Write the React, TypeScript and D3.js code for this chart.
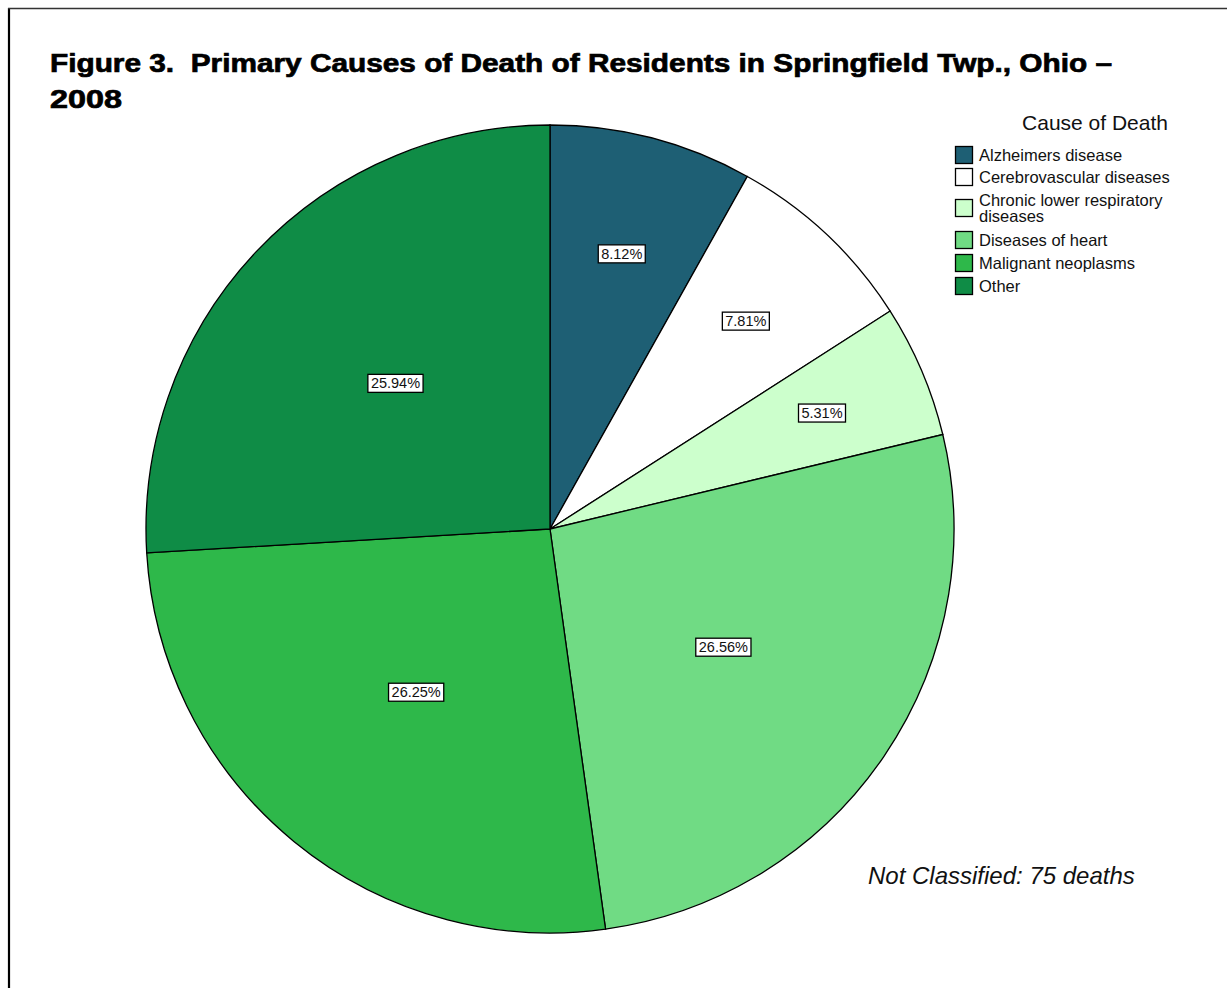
import React from 'react'
import * as d3 from 'd3'

const causes = [
    'Alzheimers disease',
    'Cerebrovascular diseases',
    'Chronic lower respiratory diseases',
    'Diseases of heart',
    'Malignant neoplasms',
    'Other',
]
const percents = [8.12, 7.81, 5.31, 26.56, 26.25, 25.94]
const colors = ['#1e5f74', '#ffffff', '#ccffcc', '#70db84', '#2eb84a', '#0f8c46']
// legend text, split where the original wraps
const legendLines = [
    ['Alzheimers disease'],
    ['Cerebrovascular diseases'],
    ['Chronic lower respiratory', 'diseases'],
    ['Diseases of heart'],
    ['Malignant neoplasms'],
    ['Other'],
]

const W = 1227
const H = 988
const cx = 550
const cy = 529
const R = 404
const font = 'Arial, "Liberation Sans", Helvetica, sans-serif'

function LabelBox({ x, y, text }: { x: number, y: number, text: string }) {
    const w = text.length * 8.2 + 6
    const h = 18
    return (
        <g>
            <rect x={x - w / 2} y={y - h / 2} width={w} height={h} fill="white" stroke="black" strokeWidth={1.3} />
            <text x={x} y={y + 5} textAnchor="middle" fontSize={14.5} fontFamily={font} fill="#111">{text}</text>
        </g>
    )
}

export default function App() {
    const data = causes.map((c, i) => ({ cause: c, pct: percents[i], color: colors[i] }))
    const pie = d3.pie<any>().sort(null).value(d => d.pct)
    const arcs = pie(data)
    const arc = d3.arc<any>().innerRadius(0).outerRadius(R)

    // legend rows (y of first line of each entry)
    const rowY = [155, 177, 200, 240, 263, 286]

    return (
        <svg width={W} height={H} style={{ position: 'fixed', left: 0, top: 0 }}>
            <rect x={0} y={0} width={W} height={H} fill="white" />
            <line x1={9} y1={8} x2={9} y2={H} stroke="black" strokeWidth={2.2} />
            <line x1={8} y1={8.5} x2={W} y2={8.5} stroke="#333" strokeWidth={1.6} />

            <g fontSize={25} fontWeight={900} fontFamily={font} stroke="black" strokeWidth={0.7}>
                <text x={50} y={72} textLength={1062} lengthAdjust="spacingAndGlyphs">
                    {'Figure 3.\u00a0 Primary Causes of Death of Residents in Springfield Twp., Ohio –'}
                </text>
                <text x={50} y={108} textLength={72} lengthAdjust="spacingAndGlyphs">2008</text>
            </g>

            <g transform={`translate(${cx},${cy})`}>
                {arcs.map((a, i) => (
                    <path key={`slice-${i}`} d={arc(a) as string} fill={a.data.color} stroke="black" strokeWidth={1.3} />
                ))}
                {arcs.map((a, i) => {
                    const mid = (a.startAngle + a.endAngle) / 2
                    const rr = R * (0.785 - a.data.pct / 100)
                    const x = Math.sin(mid) * rr
                    const y = -Math.cos(mid) * rr
                    return <LabelBox key={`lab-${i}`} x={x} y={y} text={`${a.data.pct.toFixed(2)}%`} />
                })}
            </g>

            <text x={1095} y={130} textAnchor="middle" fontSize={21} fontFamily={font} fill="#111">Cause of Death</text>
            {legendLines.map((lines, i) => {
                const y0 = rowY[i]
                const boxY = lines.length > 1 ? y0 + 8 - 8.5 : y0 - 8.5
                return (
                    <g key={`leg-${i}`}>
                        <rect x={955.5} y={boxY} width={17} height={17} fill={colors[i]} stroke="black" strokeWidth={1.3} />
                        {lines.map((l, j) => (
                            <text key={j} x={979} y={y0 + 5.5 + j * 16.5} fontSize={16.5} fontFamily={font} fill="#111">{l}</text>
                        ))}
                    </g>
                )
            })}

            <text x={868} y={884} fontSize={24} fontStyle="italic" fontFamily={font} fill="#111">Not Classified: 75 deaths</text>
        </svg>
    )
}
